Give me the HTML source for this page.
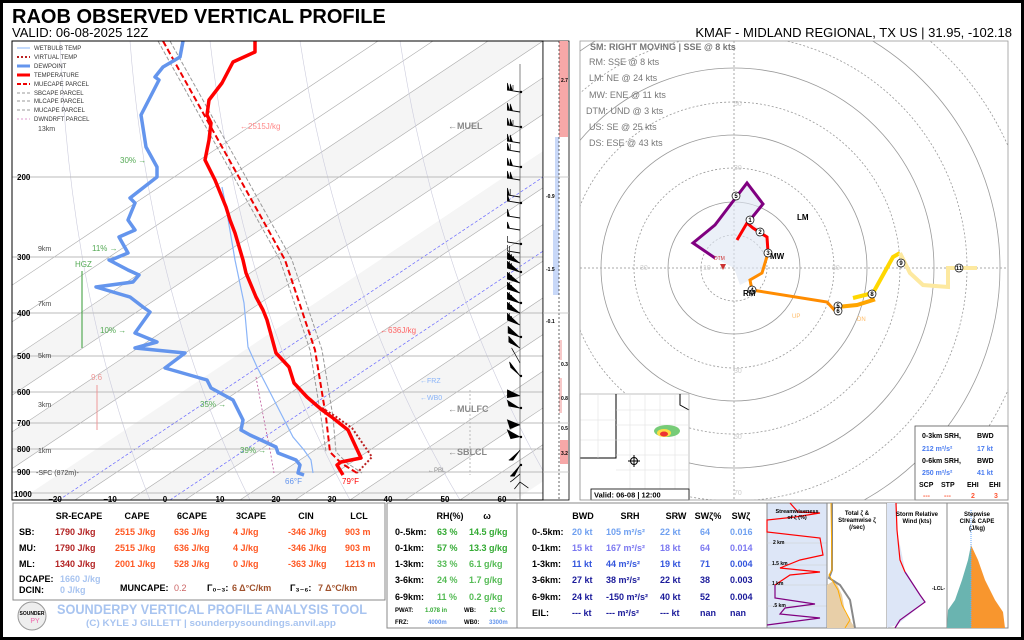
<!DOCTYPE html>
<html><head><meta charset="utf-8"><style>
body{margin:0;background:#fff;}
svg{display:block;font-family:"Liberation Sans","DejaVu Sans",sans-serif;}
</style></head><body>
<svg width="1024" height="640" viewBox="0 0 1024 640" xmlns="http://www.w3.org/2000/svg">
<defs>
<clipPath id="sk"><rect x="12" y="41" width="531" height="459"/></clipPath>
<clipPath id="hd"><rect x="580" y="41" width="428" height="459"/></clipPath>
</defs>
<rect x="0" y="0" width="1024" height="640" fill="#fff"/>
<rect x="1.5" y="1.5" width="1021" height="637" fill="none" stroke="#000" stroke-width="3"/>

<text x="12" y="23" font-size="20" font-weight="bold">RAOB OBSERVED VERTICAL PROFILE</text>
<text x="12" y="37" font-size="13">VALID: 06-08-2025 12Z</text>
<text x="1012" y="37" font-size="13" text-anchor="end">KMAF - MIDLAND REGIONAL, TX US | 31.95, -102.18</text>

<!-- Skew-T -->
<g clip-path="url(#sk)">
<rect x="12" y="41" width="531" height="459" fill="#fff"/>
<g fill="#f5f5f5">
<polygon points="-200,500 -145,500 543,41 488,41"/>
<polygon points="-90,500 -35,500 653,41 598,41"/>
<polygon points="20,500 75,500 763,41 708,41"/>
<polygon points="130,500 185,500 873,41 818,41"/>
<polygon points="240,500 295,500 983,41 928,41"/>
<polygon points="350,500 405,500 1093,41 1038,41"/>
<polygon points="460,500 515,500 1203,41 1148,41"/>
</g>
<g stroke="#aaa" stroke-width="0.6">
<line x1="-310" y1="500" x2="378" y2="41"/><line x1="-255" y1="500" x2="433" y2="41"/><line x1="-200" y1="500" x2="488" y2="41"/><line x1="-145" y1="500" x2="543" y2="41"/><line x1="-90" y1="500" x2="598" y2="41"/><line x1="-35" y1="500" x2="653" y2="41"/><line x1="75" y1="500" x2="763" y2="41"/><line x1="130" y1="500" x2="818" y2="41"/><line x1="185" y1="500" x2="873" y2="41"/><line x1="240" y1="500" x2="928" y2="41"/><line x1="295" y1="500" x2="983" y2="41"/><line x1="350" y1="500" x2="1038" y2="41"/><line x1="405" y1="500" x2="1093" y2="41"/><line x1="460" y1="500" x2="1148" y2="41"/>
</g>
<g stroke="#66f" stroke-width="0.7" stroke-dasharray="3,2">
<line x1="59" y1="500" x2="747" y2="41"/><line x1="170" y1="500" x2="858" y2="41"/>
</g>
<g stroke="#ccd" stroke-width="0.6" fill="none">
<path d="M60,41 Q70,300 150,500"/><path d="M130,41 Q150,300 250,500"/><path d="M210,41 Q240,300 350,500"/><path d="M300,41 Q340,300 460,500"/><path d="M400,41 Q440,300 560,500"/>
</g>
<g stroke="#bbb" stroke-width="1">
<line x1="12" y1="177" x2="543" y2="177"/><line x1="12" y1="257" x2="543" y2="257"/><line x1="12" y1="313" x2="543" y2="313"/><line x1="12" y1="356" x2="543" y2="356"/><line x1="12" y1="392" x2="543" y2="392"/><line x1="12" y1="423" x2="543" y2="423"/><line x1="12" y1="449" x2="543" y2="449"/><line x1="12" y1="472" x2="543" y2="472"/><line x1="12" y1="493" x2="543" y2="493"/>
</g>
<polyline fill="none" stroke="#999" stroke-width="1" stroke-dasharray="4,2" points="170,41 292,260 322,350 333,417 336,452 347,463 362,473"/>
<polyline fill="none" stroke="#999" stroke-width="1" stroke-dasharray="4,2" points="158,41 280,260 310,350 321,417 326,452"/>
<polyline fill="none" stroke="#e00" stroke-width="2" stroke-dasharray="6,3" points="163,41 285,260 315,350 326,417 330,452 341,463 357,473"/>
<polyline fill="none" stroke="#b59" stroke-width="0.8" stroke-dasharray="2,2" points="256,377 264,420 270,450 274,473"/>
<polyline fill="none" stroke="#8ab4f8" stroke-width="1.2" points="222,187 226,207 235,260 244,303 248,347 257,367 274,400 293,437 304,450 311,460 313,473"/>
<polyline fill="none" stroke="#b22" stroke-width="2" stroke-dasharray="2,2" points="322,408 335,416 352,428 372,457 357,473"/>
<polyline fill="none" stroke="#f00" stroke-width="3.5" stroke-linejoin="round" points="255,41 255,52 233,62 222,83 209,100 207,115 211,123 209,140 205,160 215,180 226,207 230,220 235,233 243,260 246,273 256,297 263,310 267,320 276,353 289,367 294,383 307,397 322,410 333,418 348,430 361,458 341,462 337,465 343,475"/>
<polyline fill="none" stroke="#6495ed" stroke-width="3.5" stroke-linejoin="round" points="183,41 180,57 163,67 155,77 159,80 141,115 146,147 157,167 157,177 130,198 135,203 128,220 135,230 119,237 128,253 111,260 109,260 128,270 139,275 133,282 96,287 130,297 143,307 150,312 135,333 157,342 135,348 185,353 165,368 207,380 211,388 233,400 243,420 241,430 250,435 276,447 278,453 296,460 300,465 298,473 304,475"/>
</g>
<rect x="12" y="41" width="531" height="459" fill="none" stroke="#000" stroke-width="1"/>
<g font-size="6" fill="#333">
<line x1="17" y1="48" x2="30" y2="48" stroke="#8ab4f8"/><text x="34" y="50">WETBULB TEMP</text>
<line x1="17" y1="57" x2="30" y2="57" stroke="#b22" stroke-width="2" stroke-dasharray="2,2"/><text x="34" y="59">VIRTUAL TEMP</text>
<line x1="17" y1="66" x2="30" y2="66" stroke="#6495ed" stroke-width="3"/><text x="34" y="68">DEWPOINT</text>
<line x1="17" y1="75" x2="30" y2="75" stroke="#f00" stroke-width="3"/><text x="34" y="77">TEMPERATURE</text>
<line x1="17" y1="84" x2="30" y2="84" stroke="#e00" stroke-width="2" stroke-dasharray="4,2"/><text x="34" y="86">MUECAPE PARCEL</text>
<line x1="17" y1="93" x2="30" y2="93" stroke="#999" stroke-dasharray="3,2"/><text x="34" y="95">SBCAPE PARCEL</text>
<line x1="17" y1="101" x2="30" y2="101" stroke="#999" stroke-dasharray="3,2"/><text x="34" y="103">MLCAPE PARCEL</text>
<line x1="17" y1="110" x2="30" y2="110" stroke="#999" stroke-dasharray="3,2"/><text x="34" y="112">MUCAPE PARCEL</text>
<line x1="17" y1="119" x2="30" y2="119" stroke="#d9c" stroke-dasharray="2,2"/><text x="34" y="121">DWNDRFT PARCEL</text>
</g>
<g font-size="7" fill="#444">
<text x="38" y="131">13km</text><text x="38" y="251">9km</text><text x="38" y="306">7km</text><text x="38" y="358">5km</text><text x="38" y="407">3km</text><text x="38" y="453">1km</text><text x="36" y="475">-SFC (872m)-</text>
</g>
<g font-size="8" font-weight="bold" fill="#000">
<text x="17" y="180">200</text><text x="17" y="260">300</text><text x="17" y="316">400</text><text x="17" y="359">500</text><text x="17" y="395">600</text><text x="17" y="426">700</text><text x="17" y="452">800</text><text x="17" y="475">900</text><text x="14" y="497">1000</text>
</g>
<g font-size="8" font-weight="bold" text-anchor="middle">
<text x="55" y="502">−20</text><text x="110" y="502">−10</text><text x="165" y="502">0</text><text x="220" y="502">10</text><text x="276" y="502">20</text><text x="332" y="502">30</text><text x="388" y="502">40</text><text x="445" y="502">50</text><text x="502" y="502">60</text>
</g>
<text x="75" y="267" font-size="8" fill="#5a5">HGZ</text>
<line x1="82" y1="271" x2="82" y2="348" stroke="#5a5" stroke-width="1.2"/>
<text x="91" y="380" font-size="8" fill="#e99">9.6</text>
<line x1="97" y1="385" x2="97" y2="430" stroke="#e99" stroke-width="1"/>
<g font-size="8" fill="#5a5">
<text x="120" y="163">30% →</text><text x="92" y="251">11% →</text><text x="100" y="333">10% →</text><text x="200" y="407">35% →</text><text x="240" y="453">39% →</text>
</g>
<text x="240" y="129" font-size="8" fill="#f88">←2515J/kg</text>
<text x="380" y="333" font-size="8" fill="#f66">←636J/kg</text>
<text x="448" y="129" font-size="9" fill="#888" font-weight="bold">←MUEL</text>
<text x="420" y="383" font-size="7" fill="#8ab4f8">←FRZ</text>
<text x="420" y="400" font-size="7" fill="#8ab4f8">←WB0</text>
<text x="448" y="412" font-size="9" fill="#888" font-weight="bold">←MULFC</text>
<text x="448" y="455" font-size="9" fill="#888" font-weight="bold">←SBLCL</text>
<text x="428" y="472" font-size="6" fill="#888">←PBL</text>
<line x1="470" y1="390" x2="470" y2="475" stroke="#bbb" stroke-dasharray="2,2"/>
<text x="285" y="484" font-size="8" fill="#6495ed">66°F</text>
<text x="342" y="484" font-size="8" fill="#f00">79°F</text>
<!-- wind barbs -->
<line x1="520" y1="64" x2="520" y2="500" stroke="#666" stroke-width="0.8"/>
<g transform="translate(156,0) scale(0.7,1)">
<g stroke="#000" stroke-width="0.9" fill="#000">
<path d="M520,92 L502,90 M502,90 l0,-7 l3,7 z M506,90 l0,-6 l3,6z M510,90 l0,-5"/>
<path d="M520,112 L502,110 M502,110 l0,-7 l3,7 z M506,110 l0,-6 l3,6z"/>
<path d="M520,127 L502,125 M502,125 l0,-7 l3,7 z M506,125 l0,-6 l3,6z M510,125 l0,-5"/>
<path d="M520,143 L502,141 M502,141 l0,-7 l3,7 z M506,141 l0,-6 l3,6z"/>
<path d="M520,152 L502,150 M502,150 l0,-7 l3,7 z M506,150 l0,-6"/>
<path d="M520,167 L502,165 M502,165 l0,-7 l3,7 z M506,165 l0,-6 l3,6z"/>
<path d="M520,180 L502,178 M502,178 l0,-7 l3,7 z M506,178 l0,-6 l3,6z"/>
<path d="M520,197 L502,195 M502,195 l0,-7 l3,7 z M506,195 l0,-6"/>
<path d="M520,203 L502,201 M502,201 l0,-7 l3,7 z"/>
<path d="M520,218 L502,216 M502,216 l0,-7 l3,7 z"/>
<path d="M520,230 L502,228 M502,228 l0,-6 l3,6 z"/>
<path d="M520,244 L502,242 M502,242 l0,-6"/>
<path d="M520,253 L502,251 M502,251 l0,-6 M505,251 l0,-5"/>
<path d="M520,263 L502,259 l0,-7 M505,259 l0,-7 M508,260 l0,-6 M511,260 l0,-4"/>
<path d="M520,272 L502,268 l0,-7 M505,268 l0,-7 M508,268 l0,-5"/>
<path d="M520,283 L502,279 l0,-7 M505,279 l0,-7 M508,280 l0,-5"/>
<path d="M520,293 L502,289 l0,-7 M505,289 l0,-7 M508,290 l0,-5"/>
<path d="M520,303 L502,299 l0,-7 M505,299 l0,-7 M508,300 l0,-5"/>
<path d="M520,313 L502,309 l0,-7 M505,309 l0,-7 M508,310 l0,-5"/>
<path d="M520,325 L502,320 l0,-7 M505,320 l0,-7 M508,321 l0,-5"/>
<path d="M520,337 L503,333 l0,-7 M506,334 l0,-6"/>
<path d="M520,348 L504,342 l0,-6 M507,344 l0,-5"/>
<path d="M520,363 L508,348 M508,348 l3,4"/>
<path d="M520,376 L505,362 l2,6"/>
<path d="M520,396 L502,390 l0,8"/>
<path d="M520,408 L504,406 l-2,-6"/>
<path d="M520,425 L502,420 l4,9"/>
<path d="M520,437 L502,430 l5,9"/>
<path d="M520,450 L510,460 l-6,0"/>
<path d="M520,465 L512,476 l-6,0"/>
<path d="M520,474 L510,480 l-4,2"/>
<path d="M520,482 L532,488 M520,482 l-8,7"/>
</g>
</g>
<g fill="#000"><circle cx="521" cy="92" r="1.2"/><circle cx="521" cy="127" r="1.2"/><circle cx="521" cy="167" r="1.2"/><circle cx="521" cy="203" r="1.2"/><circle cx="521" cy="244" r="1.2"/><circle cx="521" cy="272" r="1.2"/><circle cx="521" cy="303" r="1.2"/><circle cx="521" cy="337" r="1.2"/><circle cx="521" cy="376" r="1.2"/><circle cx="521" cy="408" r="1.2"/><circle cx="521" cy="437" r="1.2"/><circle cx="521" cy="465" r="1.2"/></g>
<rect x="543" y="41" width="26" height="459" fill="#fff" stroke="#000" stroke-width="0.8"/>
<rect x="559" y="41" width="9" height="96" fill="#f7a8a8"/>
<rect x="555" y="137" width="4" height="93" fill="#c8d8f8"/>
<rect x="553" y="230" width="6" height="65" fill="#c8d8f8"/>
<rect x="559" y="340" width="3" height="20" fill="#f7c8c8"/>
<rect x="559" y="378" width="3" height="35" fill="#f7c8c8"/>
<rect x="560" y="440" width="8" height="24" fill="#f7a8a8"/>
<line x1="559" y1="41" x2="559" y2="500" stroke="#000" stroke-width="0.6" stroke-dasharray="2,2"/>
<g stroke="#bbb" stroke-width="0.8"><line x1="543" y1="177" x2="569" y2="177"/><line x1="543" y1="313" x2="569" y2="313"/><line x1="543" y1="423" x2="569" y2="423"/><line x1="543" y1="472" x2="569" y2="472"/></g>
<g font-size="5" font-weight="bold"><text x="561" y="82">2.7</text><text x="546" y="198">-0.9</text><text x="546" y="271">-1.5</text><text x="546" y="323">-0.1</text><text x="561" y="366">0.3</text><text x="561" y="400">0.8</text><text x="561" y="430">0.5</text><text x="561" y="455">3.2</text></g>

<!-- Hodograph -->
<g clip-path="url(#hd)">
<g fill="none" stroke="#999" stroke-width="0.8">
<circle cx="734" cy="268" r="33" stroke-dasharray="2,2"/><circle cx="734" cy="268" r="66"/><circle cx="734" cy="268" r="100" stroke-dasharray="2,2"/><circle cx="734" cy="268" r="133"/><circle cx="734" cy="268" r="166" stroke-dasharray="2,2"/><circle cx="734" cy="268" r="200"/><circle cx="734" cy="268" r="233" stroke-dasharray="2,2"/><circle cx="734" cy="268" r="266"/><circle cx="734" cy="268" r="300" stroke-dasharray="2,2"/>
</g>
<line x1="580" y1="268" x2="1008" y2="268" stroke="#aaa" stroke-dasharray="2,2"/>
<line x1="734" y1="41" x2="734" y2="500" stroke="#aaa" stroke-dasharray="2,2"/>
<g font-size="7" fill="#ccc"><text x="734" y="106">50</text><text x="734" y="170">30</text><text x="734" y="373">30</text><text x="734" y="439">50</text><text x="640" y="270">30</text><text x="703" y="270">10</text><text x="832" y="270">30</text><text x="734" y="495">70</text></g>
<polygon points="715,258 693,243 717,220 747,183 763,204 750,220 767,237 768,252 762,273 750,280 740,285 734,268" fill="#dde6f3" opacity="0.6"/>
<polyline fill="none" stroke="#800080" stroke-width="3" points="715,258 693,243 715,225 747,183 763,204 750,220"/>
<polyline fill="none" stroke="#f00" stroke-width="3" points="737,240 747,223 753,228 767,237 768,252"/>
<polyline fill="none" stroke="#ff8c00" stroke-width="3" points="768,253 762,273 750,280 752,290 827,302 837,313"/>
<polyline fill="none" stroke="#ffa500" stroke-width="4" points="837,307 857,305 873,300 870,293"/>
<polyline fill="none" stroke="#ffd700" stroke-width="4" points="853,298 873,293 893,257 900,253"/>
<polyline fill="none" stroke="#fde9a0" stroke-width="4" points="900,253 910,273 923,285 948,287 948,268 977,268"/>
<g fill="#fff" stroke="#000" stroke-width="0.7"><circle cx="750" cy="220" r="4"/><circle cx="760" cy="232" r="4"/><circle cx="768" cy="253" r="4"/><circle cx="752" cy="290" r="4"/><circle cx="736" cy="196" r="4"/><circle cx="838" cy="306" r="4"/><circle cx="838" cy="311" r="4"/><circle cx="872" cy="294" r="4"/><circle cx="901" cy="263" r="4"/><circle cx="959" cy="268" r="4"/></g>
<g font-size="6" font-weight="bold" text-anchor="middle"><text x="750" y="222">1</text><text x="760" y="234">2</text><text x="768" y="255">3</text><text x="752" y="292">4</text><text x="736" y="198">5</text><text x="838" y="308">5</text><text x="838" y="313">6</text><text x="872" y="296">8</text><text x="901" y="265">9</text><text x="959" y="270">11</text></g>
<text x="797" y="220" font-size="8" font-weight="bold">LM</text>
<text x="770" y="259" font-size="8" font-weight="bold">MW</text>
<text x="743" y="296" font-size="8" font-weight="bold">RM</text>
<text x="714" y="260" font-size="5" fill="#c33">DTM</text>
<polygon points="720,264 726,264 723,270" fill="#c33"/>
<text x="792" y="318" font-size="6" fill="#fb6">UP</text>
<text x="857" y="321" font-size="6" fill="#fb6">DN</text>
<g font-size="9" fill="#777"><text x="590" y="50" font-weight="bold">SM: RIGHT MOVING | SSE @ 8 kts</text><text x="589" y="65">RM: SSE @ 8 kts</text><text x="589" y="81">LM: NE @ 24 kts</text><text x="589" y="98">MW: ENE @ 11 kts</text><text x="586" y="114">DTM: UND @ 3 kts</text><text x="589" y="130">US: SE @ 25 kts</text><text x="589" y="146">DS: ESE @ 43 kts</text></g>
</g>
<rect x="580" y="394" width="109" height="106" fill="#fff" stroke="#999" stroke-width="0.6"/>
<path d="M580,458 L616,458 L616,394 M680,394 L680,405 L689,410" fill="none" stroke="#000" stroke-width="1"/>
<g stroke="#ddd" stroke-width="0.5" fill="none"><path d="M616,410 H689 M616,425 H689 M616,440 H689 M616,455 H689 M616,470 H689 M630,394 V500 M645,394 V500 M660,394 V500 M675,394 V500 M580,420 H616 M580,440 H616 M598,394 V458"/></g>
<ellipse cx="667" cy="431" rx="13" ry="6" fill="#7c7"/><ellipse cx="664" cy="433" rx="7" ry="4" fill="#fd4"/><ellipse cx="664" cy="434" rx="4" ry="2.5" fill="#e33"/>
<circle cx="634" cy="461" r="3.5" fill="none" stroke="#000"/><path d="M628,461 H640 M634,455 V467" stroke="#000"/>
<rect x="591" y="489" width="98" height="11" fill="#fff" stroke="#000" stroke-width="0.8"/>
<text x="594" y="497.5" font-size="7.5" font-weight="bold">Valid: 06-08 | 12:00</text>
<rect x="915" y="426" width="93" height="74" fill="#fff" stroke="#555" stroke-width="0.8"/>
<g font-size="7" font-weight="bold"><text x="922" y="438">0-3km SRH,</text><text x="977" y="438">BWD</text><text x="922" y="463">0-6km SRH,</text><text x="977" y="463">BWD</text><text x="919" y="487">SCP</text><text x="941" y="487">STP</text><text x="967" y="487">EHI</text><text x="989" y="487">EHI</text></g>
<g font-size="7" font-weight="bold" fill="#4a7cf0"><text x="922" y="451">212 m²/s²</text><text x="977" y="451">17 kt</text><text x="922" y="475">250 m²/s²</text><text x="977" y="475">41 kt</text></g>
<g font-size="7" font-weight="bold" fill="#f53"><text x="923" y="498">---</text><text x="944" y="498">---</text><text x="971" y="498">2</text><text x="994" y="498">3</text></g>
<rect x="580" y="41" width="428" height="459" fill="none" stroke="#999" stroke-width="0.8"/>

<!-- bottom table -->
<rect x="13" y="503" width="372" height="97" fill="#fff" stroke="#888"/>
<g font-size="9" font-weight="bold" text-anchor="middle"><text x="79" y="519">SR-ECAPE</text><text x="137" y="519">CAPE</text><text x="192" y="519">6CAPE</text><text x="251" y="519">3CAPE</text><text x="306" y="519">CIN</text><text x="359" y="519">LCL</text></g>
<g font-size="9" font-weight="bold"><text x="19" y="535">SB:</text><text x="19" y="551">MU:</text><text x="19" y="567">ML:</text><text x="19" y="582">DCAPE:</text><text x="19" y="593">DCIN:</text></g>
<g font-size="9" font-weight="bold" fill="#b22222"><text x="55" y="535">1790 J/kg</text><text x="55" y="551">1790 J/kg</text><text x="55" y="567">1340 J/kg</text></g>
<g font-size="9" font-weight="bold" fill="#ff5722"><text x="115" y="535">2515 J/kg</text><text x="174" y="535">636 J/kg</text><text x="233" y="535">4 J/kg</text><text x="288" y="535">-346 J/kg</text><text x="345" y="535">903 m</text>
<text x="115" y="551">2515 J/kg</text><text x="174" y="551">636 J/kg</text><text x="233" y="551">4 J/kg</text><text x="288" y="551">-346 J/kg</text><text x="345" y="551">903 m</text>
<text x="115" y="567">2001 J/kg</text><text x="174" y="567">528 J/kg</text><text x="233" y="567">0 J/kg</text><text x="288" y="567">-363 J/kg</text><text x="345" y="567">1213 m</text></g>
<g font-size="9" font-weight="bold" fill="#a8c4f0"><text x="60" y="582">1660 J/kg</text><text x="60" y="593">0 J/kg</text></g>
<text x="120" y="591" font-size="9" font-weight="bold">MUNCAPE:</text><text x="174" y="591" font-size="9" fill="#c66">0.2</text>
<text x="207" y="591" font-size="9" font-weight="bold">Γ₀₋₃:</text><text x="232" y="591" font-size="9" font-weight="bold" fill="#a0522d">6 Δ°C/km</text>
<text x="290" y="591" font-size="9" font-weight="bold">Γ₃₋₆:</text><text x="318" y="591" font-size="9" font-weight="bold" fill="#a0522d">7 Δ°C/km</text>
<circle cx="32" cy="616" r="14" fill="#eee" stroke="#999"/>
<text x="32" y="615" font-size="5" font-weight="bold" text-anchor="middle">SOUNDER</text><text x="35" y="623" font-size="7" fill="#e6a" text-anchor="middle">PY</text>
<text x="57" y="614" font-size="13.5" font-weight="bold" fill="#a8c4f0" textLength="310" lengthAdjust="spacingAndGlyphs">SOUNDERPY VERTICAL PROFILE ANALYSIS TOOL</text>
<text x="86" y="626" font-size="9.5" font-weight="bold" fill="#a8c4f0" textLength="250" lengthAdjust="spacingAndGlyphs">(C) KYLE J GILLETT | sounderpysoundings.anvil.app</text>

<rect x="387" y="503" width="130" height="125" fill="#fff" stroke="#888"/>
<g font-size="9" font-weight="bold" text-anchor="middle"><text x="450" y="519">RH(%)</text><text x="487" y="519">ω</text></g>
<g font-size="9" font-weight="bold"><text x="395" y="535">0-.5km:</text><text x="395" y="551">0-1km:</text><text x="395" y="567">1-3km:</text><text x="395" y="583">3-6km:</text><text x="395" y="600">6-9km:</text></g>
<g font-size="9" font-weight="bold" fill="#3a3"><text x="437" y="535">63 %</text><text x="469" y="535">14.5 g/kg</text><text x="437" y="551">57 %</text><text x="469" y="551">13.3 g/kg</text></g>
<g font-size="9" font-weight="bold" fill="#5b5"><text x="437" y="567">33 %</text><text x="469" y="567">6.1 g/kg</text><text x="437" y="583">24 %</text><text x="469" y="583">1.7 g/kg</text><text x="437" y="600">11 %</text><text x="469" y="600">0.2 g/kg</text></g>
<g font-size="6" font-weight="bold"><text x="395" y="612">PWAT:</text><text x="425" y="612" fill="#3a3">1.078 in</text><text x="464" y="612">WB:</text><text x="490" y="612" fill="#3a3">21 °C</text><text x="395" y="624">FRZ:</text><text x="428" y="624" fill="#6495ed">4000m</text><text x="464" y="624">WB0:</text><text x="489" y="624" fill="#6495ed">3300m</text></g>

<rect x="517" y="503" width="250" height="125" fill="#fff" stroke="#888"/>
<g font-size="9" font-weight="bold" text-anchor="middle"><text x="583" y="519">BWD</text><text x="630" y="519">SRH</text><text x="676" y="519">SRW</text><text x="708" y="519">SWζ%</text><text x="741" y="519">SWζ</text></g>
<g font-size="9" font-weight="bold"><text x="532" y="535">0-.5km:</text><text x="532" y="551">0-1km:</text><text x="532" y="567">1-3km:</text><text x="532" y="583">3-6km:</text><text x="532" y="600">6-9km:</text><text x="532" y="616">EIL:</text></g>
<g font-size="9" font-weight="bold" fill="#6fa0f0"><text x="572" y="535">20 kt</text><text x="606" y="535">105 m²/s²</text><text x="660" y="535">22 kt</text><text x="700" y="535">64</text><text x="730" y="535">0.016</text></g>
<g font-size="9" font-weight="bold" fill="#7b78f0"><text x="572" y="551">15 kt</text><text x="606" y="551">167 m²/s²</text><text x="660" y="551">18 kt</text><text x="700" y="551">64</text><text x="730" y="551">0.014</text></g>
<g font-size="9" font-weight="bold" fill="#3355dd"><text x="572" y="567">11 kt</text><text x="606" y="567">44 m²/s²</text><text x="660" y="567">19 kt</text><text x="700" y="567">71</text><text x="730" y="567">0.004</text></g>
<g font-size="9" font-weight="bold" fill="#1a1a9a"><text x="572" y="583">27 kt</text><text x="606" y="583">38 m²/s²</text><text x="660" y="583">22 kt</text><text x="700" y="583">38</text><text x="730" y="583">0.003</text>
<text x="572" y="600">24 kt</text><text x="606" y="600">-150 m²/s²</text><text x="660" y="600">40 kt</text><text x="700" y="600">52</text><text x="730" y="600">0.004</text>
<text x="572" y="616">--- kt</text><text x="606" y="616">--- m²/s²</text><text x="660" y="616">--- kt</text><text x="700" y="616">nan</text><text x="730" y="616">nan</text></g>

<rect x="767" y="503" width="60" height="125" fill="#dde6f7" stroke="#888"/>
<g stroke="#ccc" stroke-width="0.5"><line x1="767" y1="543" x2="827" y2="543"/><line x1="767" y1="565" x2="827" y2="565"/><line x1="767" y1="585" x2="827" y2="585"/><line x1="767" y1="606" x2="827" y2="606"/></g>
<polyline fill="none" stroke="#f00" stroke-width="1.2" points="790,503 798,512 820,513 795,517 767,520 767,532 820,538 823,555 800,560 780,568 820,572 790,575 775,585"/>
<polyline fill="none" stroke="#800080" stroke-width="1.2" points="775,585 775,598 815,604 785,608 780,614 820,618 767,625"/>
<text x="797" y="513" font-size="5.5" font-weight="bold" text-anchor="middle">Streamwiseness</text><text x="797" y="519" font-size="5.5" font-weight="bold" text-anchor="middle">of ζ (%)</text>
<g font-size="5" font-weight="bold"><text x="773" y="544">2 km</text><text x="772" y="565">1.5 km</text><text x="772" y="585">1 km</text><text x="773" y="607">.5 km</text></g>
<rect x="827" y="503" width="60" height="125" fill="#fff" stroke="#888"/>
<polygon points="827,585 835,580 842,595 845,612 850,620 855,628 827,628" fill="#e8cfa8"/>
<polyline fill="none" stroke="#888" stroke-width="2" points="832,503 832,570 829,578 840,585 850,600 855,628"/>
<polyline fill="none" stroke="#fa0" stroke-width="1" points="831,503 832,570 829,575 838,590 842,605 850,620 845,628"/>
<text x="857" y="515" font-size="6" font-weight="bold" text-anchor="middle">Total ζ &amp;</text><text x="857" y="522" font-size="6" font-weight="bold" text-anchor="middle">Streamwise ζ</text><text x="857" y="529" font-size="6" font-weight="bold" text-anchor="middle">(/sec)</text>
<rect x="887" y="503" width="60" height="125" fill="#fff" stroke="#888"/>
<polygon points="887,503 896,503 897,530 905,570 925,602 897,625 887,628" fill="#dde6f7"/>
<polyline fill="none" stroke="#f00" stroke-width="1.2" points="896,503 897,530 900,560 905,572"/>
<polyline fill="none" stroke="#800080" stroke-width="1.2" points="905,572 920,595 925,602 900,620 895,628"/>
<text x="917" y="516" font-size="6" font-weight="bold" text-anchor="middle">Storm Relative</text><text x="917" y="523" font-size="6" font-weight="bold" text-anchor="middle">Wind (kts)</text>
<text x="932" y="590" font-size="5" font-weight="bold">-LCL-</text>
<rect x="947" y="503" width="61" height="125" fill="#fff" stroke="#888"/>
<polygon points="971,545 971,628 947,628 948,610 955,600 962,580 968,560" fill="#6ab4b0"/>
<polygon points="971,545 971,628 1005,628 1003,612 995,600 985,580 978,560" fill="#f8962e"/>
<line x1="971" y1="510" x2="971" y2="628" stroke="#6af" stroke-dasharray="1,1"/>
<text x="977" y="516" font-size="6" font-weight="bold" text-anchor="middle">Stepwise</text><text x="977" y="523" font-size="6" font-weight="bold" text-anchor="middle">CIN &amp; CAPE</text><text x="977" y="530" font-size="6" font-weight="bold" text-anchor="middle">(J/kg)</text>
</svg>
</body></html>
